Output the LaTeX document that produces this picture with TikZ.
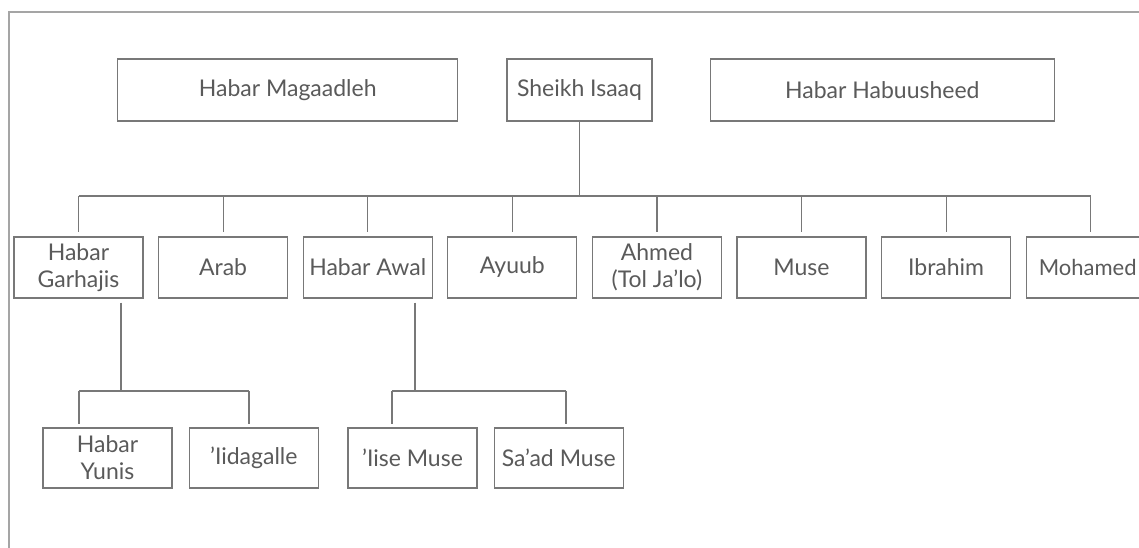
\documentclass[tikz,border=0pt]{standalone}
\usepackage{fontspec}
\setmainfont{Lato}
\usetikzlibrary{positioning}
\definecolor{boxgray}{RGB}{120,120,120}
\definecolor{txtgray}{RGB}{90,90,90}
\definecolor{framegray}{RGB}{165,165,165}
\tikzset{
  clan/.style={draw=boxgray, line width=1.3pt, text=txtgray, align=center, inner sep=0pt,
    minimum width=129pt, minimum height=61pt, font=\fontsize{23}{27}\selectfont},
  link/.style={draw=boxgray, line width=1.2pt},
}

\begin{document}
\begin{tikzpicture}[x=1pt, y=-1pt]
\clip (0,0) rectangle (1139,548);
\fill[white] (0,0) rectangle (1139,548);
\draw[framegray, line width=2pt] (1160,12) -- (9,12) -- (9,560);

% top row
\node[clan, minimum width=145pt, minimum height=62pt] (isaaq) at (579.5,90) {Sheikh Isaaq};
\node[clan, minimum width=340pt, minimum height=62pt] (magaadleh) [left=48pt of isaaq] {Habar Magaadleh};
\node[clan, minimum width=344pt, minimum height=62pt] (habuusheed) [right=57pt of isaaq] {Habar Habuusheed};

% sons
\node[clan] (garhajis) at (78.5,267.5) {Habar\\Garhajis};
\node[clan] (arab) [right=14.3pt of garhajis] {Arab};
\node[clan] (awal) [right=14.3pt of arab] {Habar Awal};
\node[clan] (ayuub) [right=14.3pt of awal] {Ayuub};
\node[clan] (ahmed) [right=14.3pt of ayuub] {Ahmed\\(Tol Ja’lo)};
\node[clan] (muse) [right=14.3pt of ahmed] {Muse};
\node[clan] (ibrahim) [right=14.3pt of muse] {Ibrahim};
\node[clan, font=\fontsize{22}{27}\selectfont] (mohamed) [right=14.3pt of ibrahim] {Mohamed\hspace*{6pt}};

% sub-clans
\node[clan, minimum height=60pt] (yunis) at (107.5,458) {Habar\\Yunis};
\node[clan, minimum height=60pt] (iidagalle) [right=16pt of yunis] {’Iidagalle};
\node[clan, minimum height=60pt] (iise) at (412.5,458) {’Iise Muse};
\node[clan, minimum height=60pt] (saad) [right=16pt of iise] {Sa’ad Muse};

\coordinate (bus) at (0,196);
\draw[link] (isaaq) -- (isaaq |- bus);
\draw[link] (garhajis.north |- bus) -- (mohamed.north |- bus);
\foreach \n in {garhajis,arab,awal,ayuub,ahmed,muse,ibrahim,mohamed}
  \draw[link, shorten >=4pt] (\n.north |- bus) -- (\n.north);

% Habar Garhajis branch
\coordinate (gsplit) at (121,391);
\coordinate (g1) at (79,391);
\coordinate (g2) at (249,391);
\draw[link, shorten <=4pt] (garhajis.south -| gsplit) -- (gsplit);
\draw[link] (g1) -- (g2);
\draw[link, shorten >=3pt] (g1) -- (g1 |- yunis.north);
\draw[link, shorten >=3pt] (g2) -- (g2 |- iidagalle.north);

% Habar Awal branch
\coordinate (asplit) at (415,391);
\coordinate (a1) at (392,391);
\coordinate (a2) at (566,391);
\draw[link, shorten <=4pt] (awal.south -| asplit) -- (asplit);
\draw[link] (a1) -- (a2);
\draw[link, shorten >=3pt] (a1) -- (a1 |- iise.north);
\draw[link, shorten >=3pt] (a2) -- (a2 |- saad.north);
\end{tikzpicture}
\end{document}
